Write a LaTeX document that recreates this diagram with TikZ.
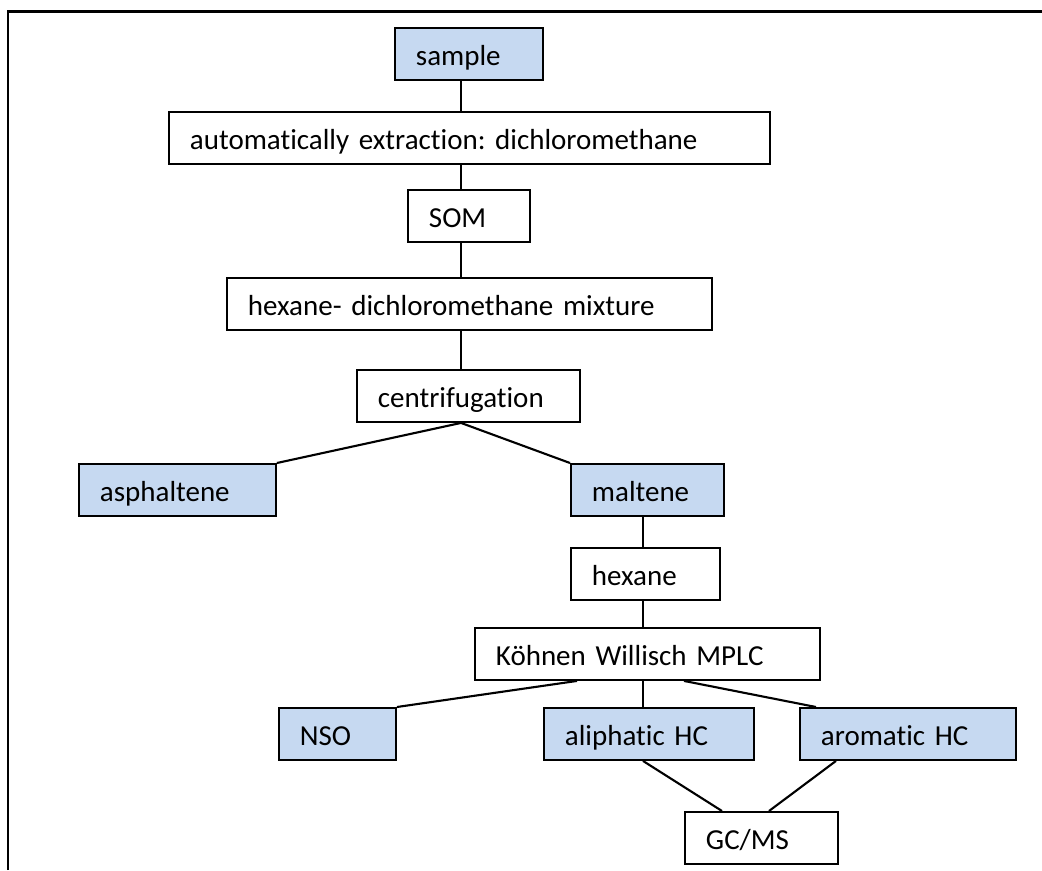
\documentclass[tikz,border=0pt]{standalone}
\usepackage{fontspec}
\setmainfont{Carlito}[RawFeature=-liga]
\usetikzlibrary{positioning, calc}

\definecolor{resultblue}{HTML}{C6D9F1}

\begin{document}
\frenchspacing
\begin{tikzpicture}[
        x = 0.02cm,
        y = -0.02cm,
        line width = 1.1pt,
        box/.style = {
            draw,
            rectangle,
            anchor = north west,
            minimum height = 1.04cm,
            inner xsep = 0.42cm,
            inner ysep = 0pt,
            align = left,
            text height = 0.52cm,
            text depth = 0.06cm,
            fill = white,
            font = \fontsize{16.5pt}{19pt}\selectfont
        },
        result/.style = {box, fill = resultblue},
        link/.style = {line width = 1.2pt},
        frame/.style = {line width = 1.7pt}
    ]

        \useasboundingbox (0,0) rectangle (1042,870);
        \draw[frame] (8,870) -- (8,11) -- (1042,11);

        \node[result, text width=2.12cm] (sample) at (394,27) {sample};
        \node[box, text width=11.18cm] (extract) at (168,111) {automatically extraction: dichloromethane};
        \node[box, text width=1.6cm] (som) at (407,189) {SOM};
        \node[box, text width=8.86cm] (mixture) at (226,277) {hexane- dichloromethane mixture};
        \node[box, text width=3.62cm] (centri) at (356,369) {centrifugation};

        \node[result, text width=3.1cm] (asphalt) at (78,463) {asphaltene};
        \node[result, text width=2.22cm] (maltene) at (570,463) {maltene};
        \node[box, text width=2.14cm] (hexane) at (570,547) {hexane};
        \node[box, text width=6.06cm] (mplc) at (474,627) {Köhnen Willisch MPLC};

        \node[result, text width=1.5cm] (nso) at (278,707) {NSO};
        \node[result, text width=3.36cm] (aliph) at (543,707) {aliphatic HC};
        \node[result, text width=3.48cm] (arom) at (799,707) {aromatic HC};
        \node[box, text width=2.22cm] (gcms) at (684,811) {GC/MS};

        \coordinate (spine) at (461,0);
        \coordinate (spine2) at (643,0);

        \draw[link] (sample.south -| spine) -- (extract.north -| spine);
        \draw[link] (extract.south -| spine) -- (som.north -| spine);
        \draw[link] (som.south -| spine) -- (mixture.north -| spine);
        \draw[link] (mixture.south -| spine) -- (centri.north -| spine);

        \draw[link] (centri.south -| spine) -- (asphalt.north east);
        \draw[link] (centri.south -| spine) -- (maltene.north west);

        \draw[link] (maltene.south -| spine2) -- (hexane.north -| spine2);
        \draw[link] (hexane.south -| spine2) -- (mplc.north -| spine2);

        \draw[link] ($(mplc.south west)+(103,0)$) -- (nso.north east);
        \draw[link] (mplc.south -| spine2) -- (aliph.north -| spine2);
        \draw[link] ($(mplc.south west)+(210,0)$) -- ($(arom.north west)+(17,0)$);

        \draw[link] (aliph.south -| spine2) -- ($(gcms.north west)+(38,0)$);
        \draw[link] ($(arom.south west)+(37,0)$) -- ($(gcms.north west)+(85,0)$);

    \end{tikzpicture}
\end{document}
